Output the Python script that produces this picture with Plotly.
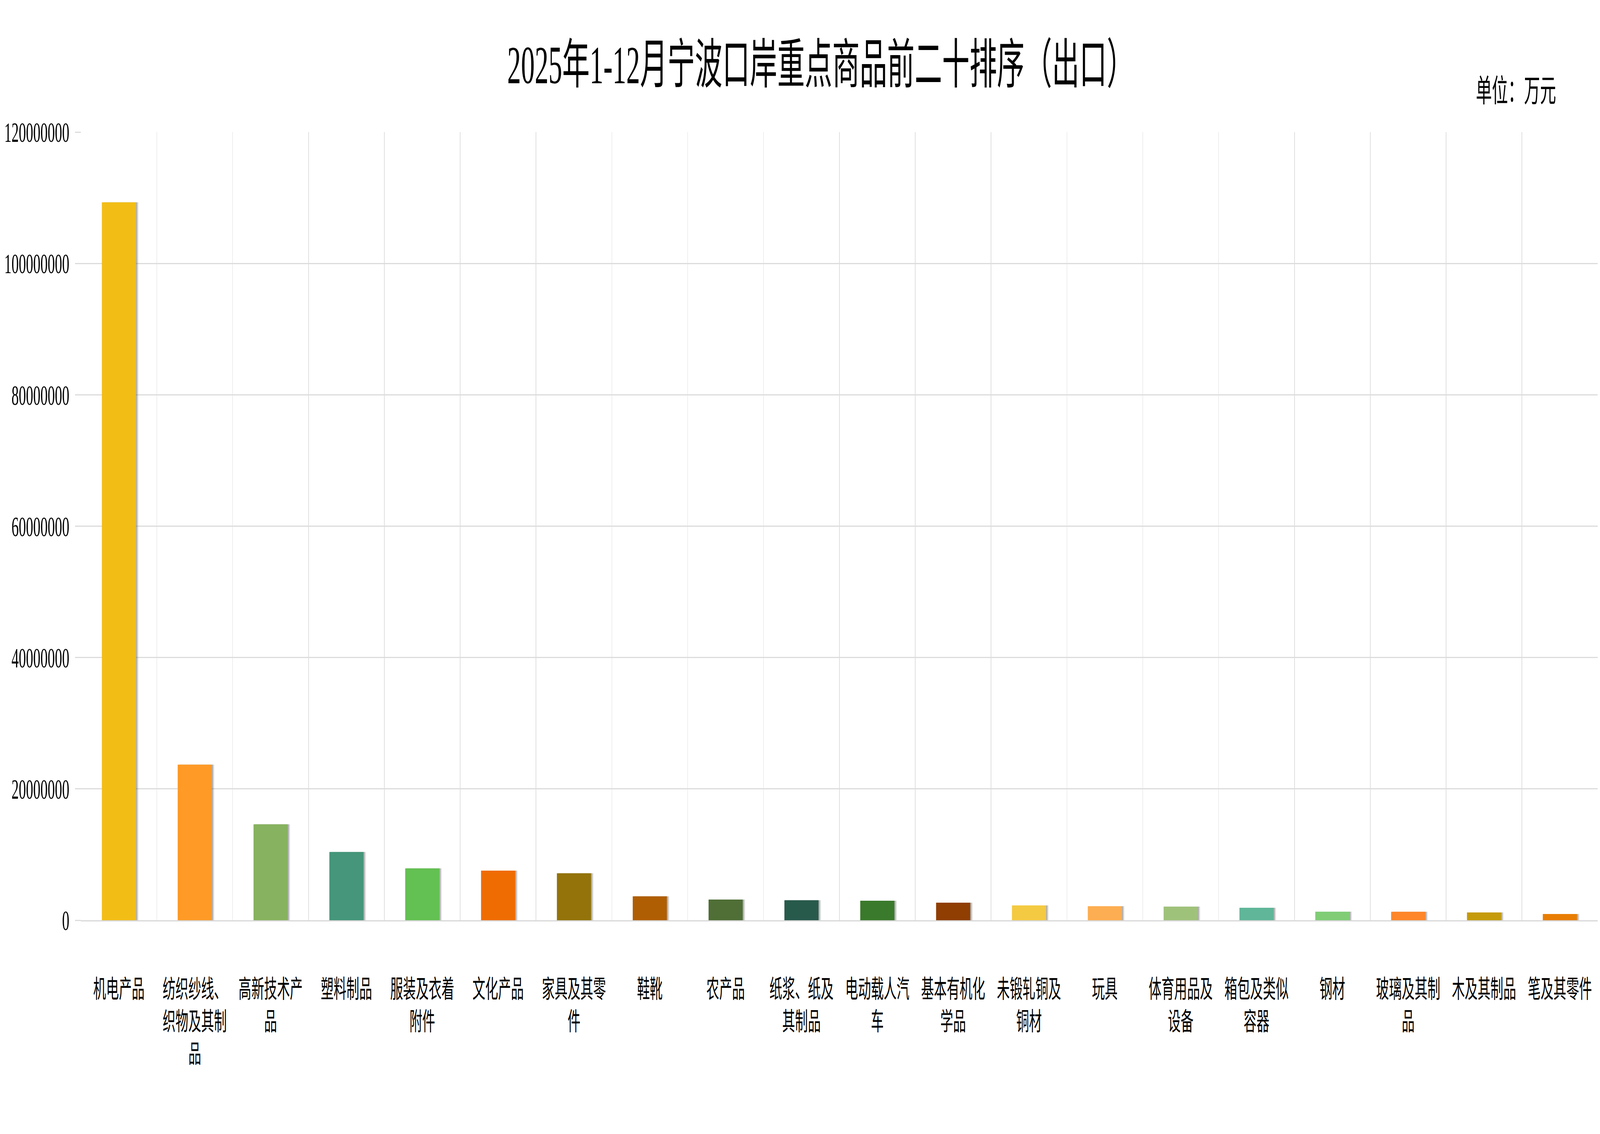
import plotly.graph_objects as go

categories = ["机电产品", "纺织纱线、织物及其制品", "高新技术产品", "塑料制品", "服装及衣着附件",
              "文化产品", "家具及其零件", "鞋靴", "农产品", "纸浆、纸及其制品",
              "电动载人汽车", "基本有机化学品", "未锻轧铜及铜材", "玩具", "体育用品及设备",
              "箱包及类似容器", "钢材", "玻璃及其制品", "木及其制品", "笔及其零件"]

values = [109300000, 23700000, 14600000, 10400000, 7900000,
          7550000, 7150000, 3650000, 3150000, 3050000,
          2980000, 2680000, 2260000, 2140000, 2080000,
          1900000, 1310000, 1300000, 1190000, 950000]

tick_labels = ["机电产品", "纺织纱线、<br>织物及其制<br>品", "高新技术产<br>品", "塑料制品", "服装及衣着<br>附件",
               "文化产品", "家具及其零<br>件", "鞋靴", "农产品", "纸浆、纸及<br>其制品",
               "电动载人汽<br>车", "基本有机化<br>学品", "未锻轧铜及<br>铜材", "玩具", "体育用品及<br>设备",
               "箱包及类似<br>容器", "钢材", "玻璃及其制<br>品", "木及其制品", "笔及其零件"]

bar_colors = ["#F2BE16", "#FF9A27", "#87B25F", "#45967A", "#63C052",
              "#EF6C03", "#93730A", "#B05E03", "#4F6F36", "#285A4C",
              "#3A7A2C", "#903E02", "#F4CA42", "#FDAE52", "#9FC27B",
              "#60B699", "#80CD76", "#FF8629", "#C59B0C", "#E87D03"]

y_ticks = [0, 20000000, 40000000, 60000000, 80000000, 100000000, 120000000]

FONT = "Liberation Serif, Noto Sans CJK SC, serif"
W, H = 7981, 2902
L, R, T, B = 404, 11, 338, 547
BW = 0.45

fig = go.Figure()

# soft shadow layers to the right of each bar
for shift, alpha in [(0.034, 0.10), (0.024, 0.16), (0.014, 0.22)]:
    fig.add_trace(go.Bar(
        x=categories, y=values, width=BW, offset=-BW / 2 + shift,
        marker=dict(color=f"rgba(60,60,60,{alpha})", line=dict(width=0)),
        hoverinfo="skip", showlegend=False,
    ))

fig.add_trace(go.Bar(
    x=categories, y=values, width=BW, offset=-BW / 2,
    marker=dict(color=bar_colors, line=dict(width=0)),
    showlegend=False,
))

fig.update_layout(
    width=W, height=H,
    margin=dict(l=L, r=R, t=T, b=B, pad=0),
    paper_bgcolor="white", plot_bgcolor="white",
    barmode="overlay",
    font=dict(family=FONT, color="#000000"),
    title=dict(
        text="2025年1-12月宁波口岸重点商品前二十排序（出口）",
        x=0.513, xref="container", xanchor="center",
        y=1 - 165 / H, yref="container", yanchor="middle",
        font=dict(family=FONT, size=137, color="#000000"),
    ),
    annotations=[dict(
        text="单位：万元", xref="paper", yref="paper",
        x=0.9728, y=1.052, xanchor="right", yanchor="middle",
        showarrow=False, font=dict(family=FONT, size=80, color="#000000"),
    )],
    xaxis=dict(
        type="category", categoryorder="array", categoryarray=categories,
        tickmode="array", tickvals=categories, ticktext=tick_labels,
        tickson="boundaries", showgrid=True, gridcolor="#E0E0E0", gridwidth=3,
        ticks="", showline=True, linecolor="#D8D8D8", linewidth=3,
        tickfont=dict(family=FONT, size=64, color="#000000"),
        ticklabelstandoff=118, tickangle=0, automargin=False,
    ),
    yaxis=dict(
        range=[0, 120000000], tickmode="array", tickvals=y_ticks,
        ticktext=[str(v) for v in y_ticks],
        showgrid=True, gridcolor="#DCDCDC", gridwidth=3,
        zeroline=False, showline=False,
        ticks="outside", ticklen=28, tickwidth=3, tickcolor="#DCDCDC",
        tickfont=dict(family=FONT, size=72, color="#000000"),
        ticklabelstandoff=15, automargin=False,
    ),
)

# The sandbox browser may be narrower than the requested 7981x2902 window;
# fit the fixed-size figure into whatever viewport is actually available.
post = """
(function(){
  var gd = document.getElementById('{plot_id}');
  document.documentElement.style.margin = '0';
  document.documentElement.style.overflow = 'hidden';
  document.body.style.margin = '0';
  document.body.style.overflow = 'hidden';
  var sx = Math.min(1, window.innerWidth / %d);
  var sy = Math.min(1, window.innerHeight / %d);
  if (sx < 1 || sy < 1) {
    gd.style.transformOrigin = '0 0';
    gd.style.transform = 'scale(' + sx + ',' + sy + ')';
  }
})();
""" % (W, H)

fig.write_html("out.html", post_script=post, config={"displayModeBar": False})
